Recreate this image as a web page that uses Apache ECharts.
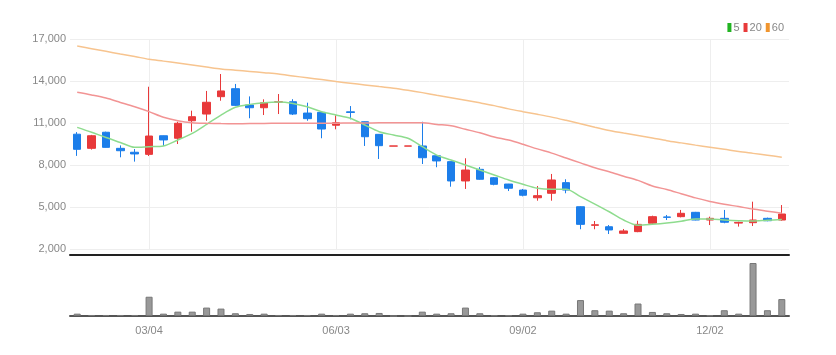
<!DOCTYPE html>
<html>
<head>
<meta charset="utf-8">
<script src="https://cdn.jsdelivr.net/npm/echarts@6/dist/echarts.min.js"></script>
<style>
  html, body { margin: 0; padding: 0; background: #fff; }
  #chart { width: 836px; height: 355px; }
</style>
</head>
<body>
<div id="chart"></div>
<script>
// weekly candles, 2019-01-28 .. 2020-01-06
var dates = ['01/28','02/04','02/11','02/18','02/25','03/04','03/11','03/18','03/25','04/01',
  '04/08','04/15','04/22','04/29','05/06','05/13','05/20','05/27','06/03','06/10',
  '06/17','06/24','07/01','07/08','07/15','07/22','07/29','08/05','08/12','08/19',
  '08/26','09/02','09/09','09/16','09/23','09/30','10/07','10/14','10/21','10/28',
  '11/04','11/11','11/18','11/25','12/02','12/09','12/16','12/23','12/30','01/06'];
var labelDates = ['03/04', '06/03', '09/02', '12/02'];

var opens  = [10200,9190,10340,9190,8910,8760,10090,9910,11160,11640,12880,13450,12290,12090,12480,12520,11710,11760,10840,11800,
  11090,10190,9350,9350,9360,8660,8240,6860,7690,7090,6640,6210,5660,5980,6740,5020,3690,3590,3120,3240,
  3840,4290,4310,4620,4070,4190,3850,3880,4190,4070];
var highs  = [10350,10150,10380,9400,9140,13590,10100,11090,11880,13290,14500,13790,12900,12690,13070,12700,12450,11800,11550,12210,
  11100,10200,9360,9360,11090,8700,8250,8480,7850,7140,6650,6290,6500,7360,6980,5050,4000,3710,3430,4020,
  4380,4430,4790,4650,4310,4790,3950,5380,4240,5140];
var lows   = [8650,9100,9250,8550,8240,8640,9360,9500,10380,11160,12590,12210,11340,11570,11640,11570,11160,9910,10550,11260,
  9360,8430,9350,9350,8070,7840,6450,6290,6950,6550,6140,5760,5450,5450,5980,3410,3410,3070,3100,3200,
  3790,4070,4260,4050,3710,3840,3600,3640,3980,4020];
var closes = [9120,10090,9260,9020,8790,10070,9790,10980,11450,12480,13290,12260,12090,12450,12520,11640,11310,10570,11020,11750,
  10020,9380,9360,9360,8520,8290,6860,7640,6980,6620,6340,5840,5810,6930,6210,3760,3730,3360,3290,3760,
  4310,4260,4550,4070,4190,3910,3900,4070,4020,4500];

var ma5  = [10690,10340,9960,9610,9260,9310,9360,9790,10260,10900,11570,12120,12330,12450,12500,12400,12160,11800,11570,11340,
  10860,10380,10140,9910,9310,8710,8360,8000,7640,7290,6930,6620,6340,6260,6260,5740,5210,4660,4070,3700,
  3760,3850,3980,4150,4140,4070,4020,4000,4060,4100];
var ma20 = [13190,13000,12780,12470,12160,11810,11410,11160,11020,10980,10960,10950,10960,10970,10980,10980,10980,10980,10990,11000,
  11000,11010,11020,11020,11020,10900,10800,10550,10300,10000,9780,9480,9150,8850,8500,8150,7800,7520,7200,6900,
  6500,6250,5950,5650,5400,5200,5030,4850,4700,4550];
var ma60 = [16500,16310,16120,15930,15750,15550,15420,15280,15140,15000,14860,14770,14680,14590,14500,14360,14230,14100,13960,13840,
  13720,13600,13490,13340,13170,12980,12810,12630,12440,12240,12010,11810,11620,11420,11190,10950,10700,10470,10280,10110,
  9930,9740,9580,9420,9270,9120,8960,8830,8700,8550];

var volumes = [46,20,20,20,20,380,46,86,86,166,146,54,40,46,20,20,20,46,20,46,
  54,60,0,0,86,46,54,166,54,14,14,46,74,106,46,314,114,106,54,246,
  80,54,40,46,14,114,46,1046,114,334];

var candleData = [];
for (var i = 0; i < dates.length; i++) {
  candleData.push([opens[i], closes[i], lows[i], highs[i]]);
}

var showAtLabel = function (idx, val) {
  return labelDates.indexOf(val) >= 0;
};

var myChart = echarts.init(document.getElementById('chart'));
var fontName = "'Liberation Sans Narrow', 'Liberation Sans', sans-serif";

var option = {
  animation: false,
  backgroundColor: '#fff',
  textStyle: { fontFamily: fontName },
  legend: {
    right: 47,
    top: 17,
    itemWidth: 4,
    itemHeight: 9,
    itemGap: 4,
    icon: 'rect',
    data: ['5', '20', '60'],
    textStyle: { color: '#888', fontSize: 11, fontFamily: fontName, padding: [0, 0, 0, -3] }
  },
  grid: [
    { left: 70, right: 47, top: 39, height: 210 },
    { left: 70, right: 47, top: 263, height: 53 }
  ],
  xAxis: [
    {
      type: 'category',
      data: dates,
      gridIndex: 0,
      offset: 6,
      axisLine: { lineStyle: { color: '#222', width: 2 } },
      axisTick: { show: false },
      axisLabel: { show: false },
      splitLine: {
        show: true,
        alignWithLabel: true,
        interval: showAtLabel,
        lineStyle: { color: '#eee' }
      }
    },
    {
      type: 'category',
      data: dates,
      gridIndex: 1,
      axisLine: { lineStyle: { color: '#555', width: 2 } },
      axisTick: { alignWithLabel: true, interval: showAtLabel, length: 5, lineStyle: { color: '#555' } },
      axisLabel: { interval: showAtLabel, color: '#888', fontSize: 11, margin: 9 },
      splitLine: { show: false }
    }
  ],
  yAxis: [
    {
      gridIndex: 0,
      min: 2000,
      max: 17000,
      interval: 3000,
      axisLine: { show: false },
      axisTick: { show: false },
      axisLabel: {
        color: '#888',
        fontSize: 11,
        margin: 4,
        formatter: function (v) { return echarts.format.addCommas(v); }
      },
      splitLine: { lineStyle: { color: '#eee' } }
    },
    {
      gridIndex: 1,
      min: 0,
      max: 'dataMax',
      show: false,
      splitLine: { show: false }
    }
  ],
  series: [
    {
      name: 'price',
      type: 'candlestick',
      data: candleData,
      barWidth: 8,
      itemStyle: {
        color: '#e8393a',
        color0: '#1c7eea',
        borderColor: '#e8393a',
        borderColor0: '#1c7eea',
        borderWidth: 1
      }
    },
    {
      name: '5', type: 'line', data: ma5, symbol: 'none', smooth: 0.3,
      color: '#22b422',
      lineStyle: { color: '#8edc8e', width: 1.5 }
    },
    {
      name: '20', type: 'line', data: ma20, symbol: 'none', smooth: 0.3,
      color: '#e83a3a',
      lineStyle: { color: '#f29494', width: 1.5 }
    },
    {
      name: '60', type: 'line', data: ma60, symbol: 'none', smooth: 0.3,
      color: '#f0952e',
      lineStyle: { color: '#f7c48f', width: 1.5 }
    },
    {
      name: 'volume',
      type: 'bar',
      xAxisIndex: 1,
      yAxisIndex: 1,
      data: volumes,
      barWidth: 7,
      itemStyle: { color: '#999', borderColor: '#777', borderWidth: 1 }
    }
  ]
};
myChart.setOption(option);
</script>
</body>
</html>
